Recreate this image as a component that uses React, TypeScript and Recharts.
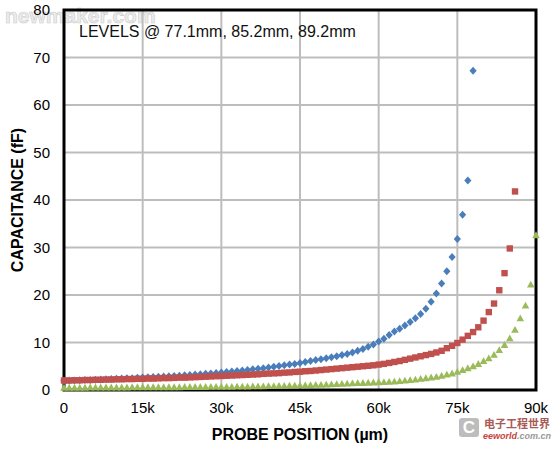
import {
  ScatterChart,
  Scatter,
  XAxis,
  YAxis,
  CartesianGrid,
  ReferenceArea,
  Label,
} from "recharts";

/* ================= DATA ================= */

// probe positions are sampled every 1k µm
const STEP_UM = 1000;

// level @ 77.1mm (0 .. 78k)
const blueCap = [
  1.95, 2.0, 2.0, 2.05, 2.1, 2.1, 2.15, 2.2, 2.25, 2.3,
  2.35, 2.4, 2.45, 2.5, 2.6, 2.65, 2.7, 2.75, 2.8, 2.85,
  2.9, 2.95, 3.0, 3.1, 3.15, 3.25, 3.3, 3.4, 3.5, 3.6,
  3.7, 3.8, 3.9, 4.0, 4.1, 4.2, 4.35, 4.45, 4.6, 4.75,
  4.9, 5.05, 5.2, 5.35, 5.5, 5.7, 5.9, 6.1, 6.3, 6.5,
  6.7, 6.9, 7.1, 7.35, 7.6, 7.9, 8.25, 8.65, 9.1, 9.6,
  10.2, 10.8, 11.6, 12.3, 12.9, 13.6, 14.3, 15.1, 16.0, 17.1,
  18.6, 20.3, 22.4, 25.0, 28.0, 31.8, 36.9, 44.1, 67.2,
];

// level @ 85.2mm (0 .. 86k)
const redCap = [
  2.0, 2.0, 2.05, 2.05, 2.1, 2.1, 2.15, 2.15, 2.2, 2.2,
  2.25, 2.25, 2.3, 2.3, 2.35, 2.35, 2.4, 2.4, 2.45, 2.5,
  2.5, 2.55, 2.6, 2.6, 2.65, 2.7, 2.75, 2.8, 2.85, 2.9,
  2.95, 3.0, 3.05, 3.1, 3.15, 3.2, 3.25, 3.3, 3.4, 3.45,
  3.5, 3.55, 3.65, 3.7, 3.8, 3.85, 3.95, 4.0, 4.1, 4.2,
  4.3, 4.4, 4.5, 4.6, 4.7, 4.8, 4.9, 5.0, 5.1, 5.2,
  5.35, 5.5, 5.7, 5.9, 6.1, 6.35, 6.6, 6.85, 7.1, 7.35,
  7.6, 7.9, 8.25, 8.8, 9.3, 9.9, 10.6, 11.4, 12.2, 13.2,
  14.6, 16.4, 18.2, 21.0, 24.6, 29.8, 41.8,
];

// level @ 89.2mm (0 .. 90k)
const greenCap = [
  0.5, 0.5, 0.5, 0.5, 0.5, 0.55, 0.55, 0.55, 0.55, 0.55,
  0.55, 0.55, 0.55, 0.6, 0.6, 0.6, 0.6, 0.6, 0.6, 0.6,
  0.6, 0.6, 0.6, 0.65, 0.65, 0.65, 0.65, 0.65, 0.7, 0.7,
  0.7, 0.7, 0.7, 0.75, 0.75, 0.75, 0.8, 0.8, 0.8, 0.85,
  0.85, 0.9, 0.9, 0.95, 0.95, 1.0, 1.0, 1.05, 1.1, 1.1,
  1.15, 1.2, 1.25, 1.3, 1.35, 1.4, 1.45, 1.5, 1.55, 1.6,
  1.65, 1.7, 1.75, 1.8, 1.9, 2.0, 2.1, 2.2, 2.35, 2.5,
  2.65, 2.8, 3.0, 3.25, 3.5, 3.85, 4.2, 4.6, 5.0, 5.5,
  6.1, 6.7, 7.4, 8.4, 9.5, 10.9, 12.7, 15.1, 17.8, 22.2,
  32.6,
];

const xTicks = [0, 15000, 30000, 45000, 60000, 75000, 90000];
const xTickLabels = ["0", "15k", "30k", "45k", "60k", "75k", "90k"];
const yTicks = [0, 10, 20, 30, 40, 50, 60, 70, 80];

const levelsNote = "LEVELS @ 77.1mm, 85.2mm, 89.2mm";
const xTitle = "PROBE POSITION (\u00b5m)";
const yTitle = "CAPACITANCE (fF)";

const toPoints = (values: number[]) =>
  values.map((c, i) => ({ x: i * STEP_UM, y: c }));

/* ================= MARKERS ================= */

const BLUE = "#4a7ebb";
const RED = "#c0504d";
const GREEN = "#9bbb59";

const Diamond = (props: any) => {
  const { cx, cy } = props;
  return (
    <path
      d={`M${cx},${cy - 4}L${cx + 3.6},${cy}L${cx},${cy + 4}L${cx - 3.6},${cy}Z`}
      fill={BLUE}
    />
  );
};

const Square = (props: any) => {
  const { cx, cy } = props;
  return <rect x={cx - 3.2} y={cy - 3.2} width={6.4} height={6.4} fill={RED} />;
};

const Triangle = (props: any) => {
  const { cx, cy } = props;
  return (
    <path
      d={`M${cx},${cy - 3.8}L${cx + 3.8},${cy + 3}L${cx - 3.8},${cy + 3}Z`}
      fill={GREEN}
    />
  );
};

export default function App() {
  return (
    <div style={page}>
      {/* WATERMARK (under the chart, like the reference) */}
      <div style={wmTop}>newmaker.com</div>

      <div style={chartLayer}>
        <ScatterChart
          width={556}
          height={450}
          margin={{ top: 10, right: 20, bottom: 0, left: 0 }}
        >
          <CartesianGrid stroke="#bdbdbd" strokeWidth={2} />

          <XAxis
            type="number"
            dataKey="x"
            domain={[0, 90000]}
            ticks={xTicks}
            interval={0}
            tickFormatter={(_v: number, i: number) => xTickLabels[i]}
            axisLine={false}
            tickLine={false}
            tickMargin={6}
            height={60}
            tick={{ fill: "#000", fontSize: 15 }}
          >
            <Label value={xTitle} position="insideBottom" offset={10} style={titleStyle} />
          </XAxis>

          <YAxis
            type="number"
            dataKey="y"
            domain={[0, 80]}
            ticks={yTicks}
            interval={0}
            axisLine={false}
            tickLine={false}
            tickMargin={8}
            width={64}
            tick={{ fill: "#000", fontSize: 15 }}
          >
            <Label
              value={yTitle}
              angle={-90}
              position="insideLeft"
              offset={17}
              style={{ ...titleStyle, textAnchor: "middle" }}
            />
          </YAxis>

          <Scatter data={toPoints(blueCap)} shape={Diamond} isAnimationActive={false} />
          <Scatter data={toPoints(redCap)} shape={Square} isAnimationActive={false} />
          <Scatter data={toPoints(greenCap)} shape={Triangle} isAnimationActive={false} />

          <ReferenceArea
            x1={0}
            x2={90000}
            y1={0}
            y2={80}
            fill="none"
            stroke="#000"
            strokeWidth={3}
          />
        </ScatterChart>
      </div>

      {/* NOTE */}
      <div style={note}>{levelsNote}</div>

      {/* LOGO */}
      <div style={wmIcon}>C</div>
      <div style={wmCn}>电子工程世界</div>
      <div style={wmEn}>
        <span style={{ color: "#c8413a" }}>eeworld</span>.com.cn
      </div>
    </div>
  );
}

/* ================= STYLES ================= */

const FONT = "'Liberation Sans', Arial, Helvetica, sans-serif";

const page: any = {
  position: "absolute",
  left: 0,
  top: 0,
  width: 556,
  height: 450,
  background: "#fff",
  fontFamily: FONT,
  overflow: "hidden",
};

const chartLayer: any = {
  position: "absolute",
  left: 0,
  top: 0,
};

const titleStyle: any = {
  fontWeight: "bold",
  fontSize: 16,
  fill: "#000",
  fontFamily: FONT,
};

const note: any = {
  position: "absolute",
  left: 79,
  top: 24,
  fontSize: 16,
  lineHeight: "16px",
  color: "#111",
  whiteSpace: "nowrap",
};

const wmTop: any = {
  position: "absolute",
  left: 5,
  top: 5,
  fontSize: 21,
  lineHeight: "21px",
  fontWeight: "bold",
  color: "#ececec",
  WebkitTextStroke: "0.6px #cccccc",
  whiteSpace: "nowrap",
};

const wmIcon: any = {
  position: "absolute",
  left: 459,
  top: 418,
  width: 20,
  height: 19,
  borderRadius: 3,
  background: "#bdbdbd",
  color: "#fff",
  fontSize: 17,
  fontWeight: "bold",
  lineHeight: "19px",
  textAlign: "center",
};

const wmCn: any = {
  position: "absolute",
  left: 484,
  top: 417,
  fontSize: 11,
  lineHeight: "12px",
  color: "#a85a55",
  fontFamily: "'Noto Sans CJK SC', sans-serif",
  fontWeight: "bold",
  whiteSpace: "nowrap",
};

const wmEn: any = {
  position: "absolute",
  left: 483,
  top: 431,
  fontSize: 9,
  lineHeight: "10px",
  fontStyle: "italic",
  fontWeight: "bold",
  color: "#9a9a9a",
  whiteSpace: "nowrap",
};
